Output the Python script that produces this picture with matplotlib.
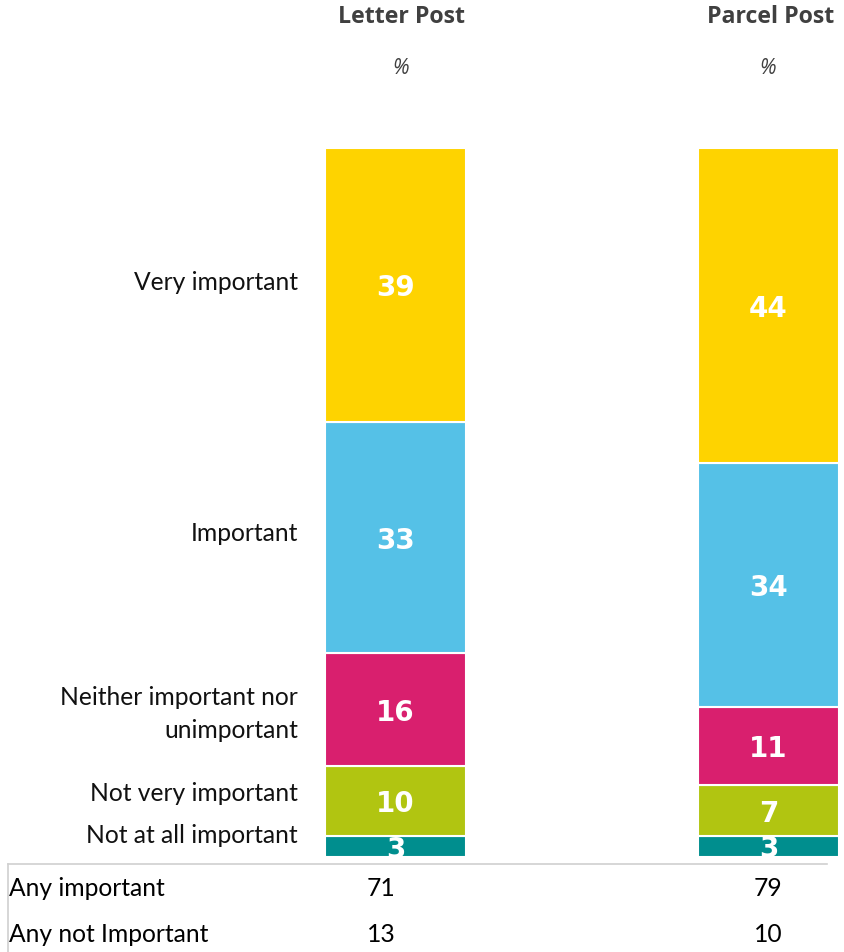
import numpy as np
import matplotlib
matplotlib.use("Agg")
import matplotlib.pyplot as plt

# ---------------------------------------------------------
# DATA
# ---------------------------------------------------------
groups = ["Letter Post", "Parcel Post"]
categories = ["Not at all important", "Not very important",
              "Neither important nor\nunimportant", "Important", "Very important"]
letter_vals = [3, 10, 16, 33, 39]
parcel_vals = [3, 7, 11, 34, 44]
summary_rows = ["Any important", "Any not Important"]
letter_summary = [71, 13]
parcel_summary = [79, 10]

colors = ["#008E8E", "#B1C511", "#D91F6E", "#55C1E7", "#FED300"]

W, H = 844, 952
fig = plt.figure(figsize=(W / 100, H / 100), dpi=100)

label_font = "Lato"
label_size = 17.7

# axes laid out so that bars sit where the reference puts them
bar_top, bar_bot = 148, 857
ax = fig.add_axes([0, (H - bar_bot) / H, 1, (bar_bot - bar_top) / H])
c0, step = 395.5, 373.0
ax.set_xlim(-c0 / step, (W - c0) / step)
ax.set_ylim(0, 100)
ax.axis("off")

width = 141 / step
for i, vals in enumerate([letter_vals, parcel_vals]):
    vals = np.array(vals, dtype=float)
    scaled = vals / vals.sum() * 100
    bottoms = np.concatenate([[0], np.cumsum(scaled)[:-1]])
    ax.bar([i] * len(vals), scaled, bottom=bottoms, width=width,
           color=colors, edgecolor="white", linewidth=1.5)
    for v, b, h in zip(vals, bottoms, scaled):
        ax.text(i, b + h / 2 - 0.45, f"{int(v)}", ha="center", va="center",
                color="white", fontsize=20, fontweight="bold",
                family="DejaVu Sans")

# category labels on the left, aligned with Letter Post segments
lv = np.array(letter_vals, dtype=float)
ls = lv / lv.sum() * 100
lcent = np.concatenate([[0], np.cumsum(ls)[:-1]]) + ls / 2
offsets = [1.5, 1.1, -0.6, 0.6, 0.3]
for cat, y, off in zip(categories, lcent, offsets):
    ax.text(-c0 / step + 298 / step, y + off, cat, ha="right", va="center",
            fontsize=label_size, family=label_font, color="#111111",
            linespacing=1.55)

# headers
for i, g in enumerate(groups):
    xc = [401, 771][i]
    fig.text(xc / W, 1 - 17 / H, g, ha="center", va="center", fontsize=16.7,
             fontweight="bold", family="Open Sans", color="#404040")
    fig.text([401, 768][i] / W, 1 - 68 / H, "%", ha="center", va="center",
             fontsize=15, style="italic", family="Open Sans", color="#404040")

# summary table
fig.add_artist(plt.Line2D([8 / W, 827 / W], [1 - 864 / H, 1 - 864 / H],
                          color="#D0D0D0", linewidth=1.2))
fig.add_artist(plt.Line2D([8 / W, 8 / W], [1 - 864 / H, 0],
                          color="#D0D0D0", linewidth=1.2))
for r, (name, a, b) in enumerate(zip(summary_rows, letter_summary, parcel_summary)):
    y = 1 - [888, 934][r] / H
    fig.text(9 / W, y, name, ha="left", va="center", fontsize=label_size,
             family=label_font, color="black")
    fig.text(381 / W, y, str(a), ha="center", va="center", fontsize=label_size,
             family=label_font, color="black")
    fig.text(768 / W, y, str(b), ha="center", va="center", fontsize=label_size,
             family=label_font, color="black")

fig.savefig("out.png", dpi=100, facecolor="white")
